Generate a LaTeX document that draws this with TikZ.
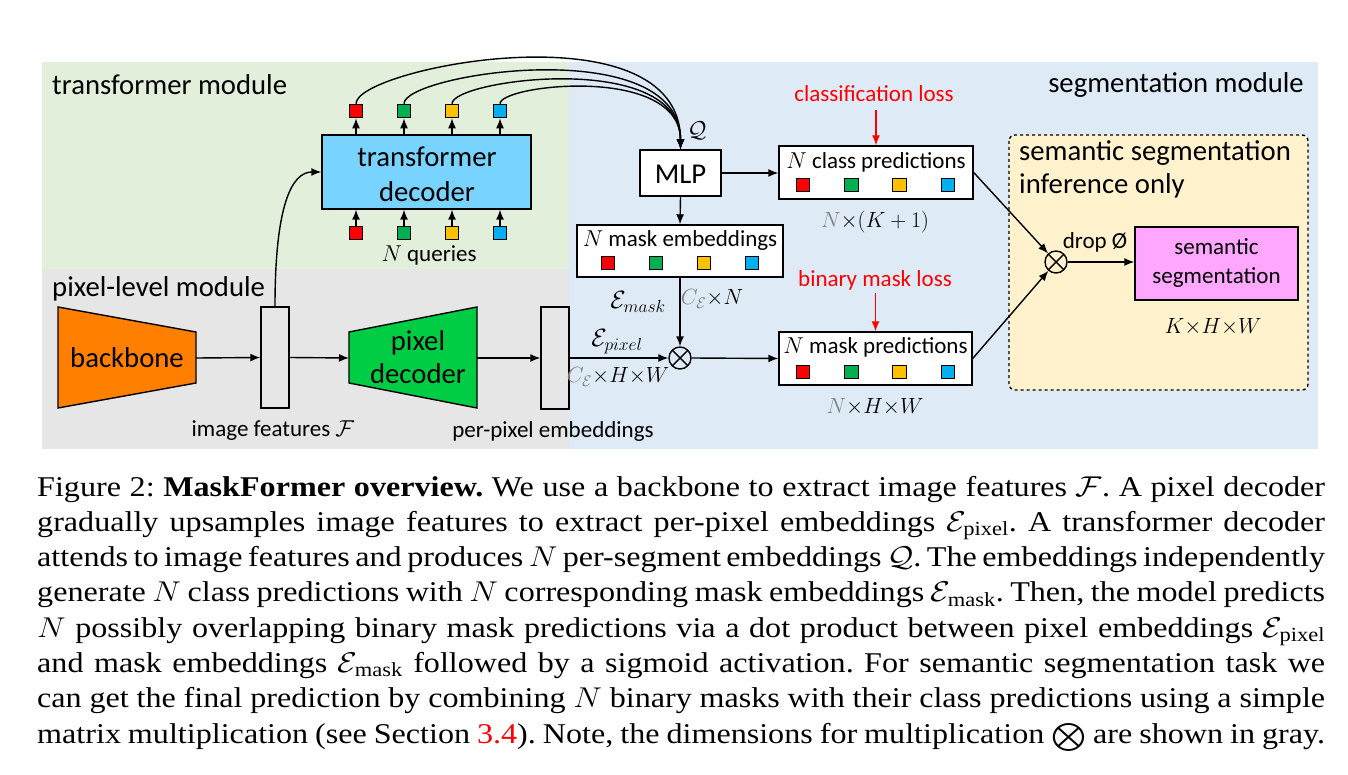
\RequirePackage{fix-cm}
\documentclass[tikz,border=0pt]{standalone}
\usepackage{fontspec}
\setmainfont{Liberation Serif}
\newfontfamily\calfont{Carlito}
\usepackage{amsmath}
\usetikzlibrary{arrows.meta}

\definecolor{tmgreen}{RGB}{226,239,218}
\definecolor{plgray}{RGB}{231,230,230}
\definecolor{smblue}{RGB}{222,235,247}
\definecolor{infyellow}{RGB}{255,242,204}
\definecolor{decblue}{RGB}{120,212,255}
\definecolor{bborange}{RGB}{255,127,0}
\definecolor{pdgreen}{RGB}{0,204,68}
\definecolor{segpink}{RGB}{255,166,255}
\definecolor{qred}{RGB}{255,0,0}
\definecolor{qgreen}{RGB}{0,176,80}
\definecolor{qyellow}{RGB}{255,192,0}
\definecolor{qblue}{RGB}{0,176,240}
\definecolor{dimgray}{RGB}{128,128,128}

\newcommand{\capln}[1]{\scalebox{1.01}[0.9]{\frenchspacing\makebox[1275.2pt][s]{#1}}}

\tikzset{
  box/.style={draw, line width=1.4pt, inner sep=0pt},
  sq/.style={draw, line width=1.1pt, minimum size=13.5pt, inner sep=0pt},
  arr/.style={-{Latex[length=10pt,width=8pt]}, line width=1.4pt},
  lossarr/.style={arr, red},
  lbl/.style={inner sep=0pt, font=\calfont\fontsize{23}{29}\selectfont},
  head/.style={inner sep=0pt, font=\calfont\fontsize{28.7}{33}\selectfont},
  dim/.style={inner sep=0pt, font=\fontsize{22}{26}\selectfont},
  otimes/.style={draw, circle, line width=1.4pt, minimum size=22pt, inner sep=0pt,
    path picture={\draw[line width=1.4pt]
      (path picture bounding box.north west) -- (path picture bounding box.south east)
      (path picture bounding box.north east) -- (path picture bounding box.south west);}},
  capline/.style={anchor=base west, inner sep=0pt, font=\fontsize{31.8}{35}\selectfont},
}

\begin{document}
\begin{tikzpicture}[x=1pt, y=-1pt]
    \useasboundingbox[fill=white] (0,0) rectangle (1348,775);

    % module backgrounds
    \fill[tmgreen] (42,62) rectangle (569,269);
    \fill[plgray] (42,269) rectangle (569,449);
    \fill[smblue] (569,62) rectangle (1318,449);
    \node[head, anchor=west] at (52,85) {transformer module};
    \node[head, anchor=west] at (52,289) {pixel-level module};
    \node[head, anchor=east] at (1304,85) {segmentation module};

    % pixel-level module
    \fill[bborange, draw=black, line width=1.4pt] (58,307) -- (196,332) -- (196,383) -- (58,408) -- cycle;
    \node[head] (bb) at (127,358) {backbone};
    \coordinate (bbout) at (196,358);
    \node[box, fill=plgray, minimum width=28pt, minimum height=101pt] (feat) at (275,357.5) {};
    \fill[pdgreen, draw=black, line width=1.4pt] (349,332) -- (477,307) -- (477,408) -- (349,383) -- cycle;
    \node[head, align=center] (pd) at (418,357) {pixel\\decoder};
    \coordinate (pdin) at (349,358);
    \coordinate (pdout) at (477,358);
    \node[box, fill=plgray, minimum width=28pt, minimum height=102pt] (ppe) at (555,358) {};
    \node[lbl] at (273,431) {image features $\mathcal{F}$};
    \node[lbl] at (553,431) {per-pixel embeddings};

    \draw[arr] (bbout) -- (feat.west);
    \draw[arr] (feat.east) -- (pdin);
    \draw[arr] (pdout) -- (ppe.west);

    % transformer module
    \node[box, fill=decblue, minimum width=209pt, minimum height=74pt] (dec) at (426.5,172) {};
    \node[head, align=center, font=\calfont\fontsize{28.7}{35}\selectfont] at (427,174) {transformer\\decoder};
    \foreach \c [count=\i] in {qred,qgreen,qyellow,qblue} {
        \node[sq, fill=\c] (to\i) at ({308+48*\i},111) {};
        \node[sq, fill=\c] (ti\i) at ({308+48*\i},233) {};
        \draw[arr] (to\i |- dec.north) -- (to\i.south);
        \draw[arr] (ti\i.north) -- (ti\i |- dec.south);
    }
    \node[lbl] at (429,255) {$N$ queries};
    \draw[arr] (feat.north) .. controls +(0,-100) and +(-30,0) .. (dec.west);

    % segmentation module
    \node[box, fill=white, minimum width=81pt, minimum height=46pt] (mlp) at (680.5,173) {};
    \node[head] at (680.5,174) {MLP};
    \node[lbl] at (697,131) {$\mathcal{Q}$};
    \draw[arr] (to1.north) .. controls +(0,-36) and +(0,-145) .. (mlp.north);
    \draw[arr] (to2.north) .. controls +(0,-30) and +(0,-118) .. (mlp.north);
    \draw[arr] (to3.north) .. controls +(0,-24) and +(0,-100) .. (mlp.north);
    \draw[arr] (to4.north) .. controls +(0,-19) and +(0,-85) .. (mlp.north);

    \node[box, fill=white, minimum width=194pt, minimum height=53pt] (cls) at (876,172.5) {};
    \node[lbl] at (876,162) {$N$ class predictions};
    \node[box, fill=white, minimum width=206pt, minimum height=52pt] (memb) at (680,251) {};
    \node[lbl] at (680,240) {$N$ mask embeddings};
    \node[box, fill=white, minimum width=193pt, minimum height=53pt] (mpred) at (875.5,358.5) {};
    \node[lbl] at (875.5,347) {$N$ mask predictions};
    \foreach \c [count=\i] in {qred,qgreen,qyellow,qblue} {
        \node[sq, fill=\c] at ({754.7+48.3*\i},185) {};
        \node[sq, fill=\c] at ({560+48*\i},263) {};
        \node[sq, fill=\c] at ({754.7+48.3*\i},372) {};
    }

    \node[lbl, text=red] (closs) at (874,94) {classification loss};
    \node[lbl, text=red] (bloss) at (875,280) {binary mask loss};
    \draw[lossarr, shorten <=8pt] (closs.south -| cls.north) -- (cls.north);
    \draw[lossarr, shorten <=3pt] (bloss.south -| mpred.north) -- (mpred.north);
    \node[dim] at (875,222) {$\textcolor{dimgray}{N}{\times}(K+1)$};
    \node[dim] at (875,407) {$\textcolor{dimgray}{N}{\times}H{\times}W$};

    \node[otimes] (ot1) at (680,358) {};
    \node[dim, font=\fontsize{25}{28}\selectfont] at (638,302) {$\mathcal{E}_{mask}$};
    \node[dim] at (712,299) {$\textcolor{dimgray}{C_{\mathcal{E}}}{\times}N$};
    \node[dim, font=\fontsize{25}{28}\selectfont] at (617,342) {$\mathcal{E}_{pixel}$};
    \node[dim] at (618,377) {$\textcolor{dimgray}{C_{\mathcal{E}}}{\times}H{\times}W$};

    \draw[arr] (mlp.east) -- (mlp.east -| cls.west);
    \draw[arr] (mlp.south) -- (memb.north);
    \draw[arr] (memb.south) -- (ot1.north);
    \draw[arr] (ppe.east) -- (ot1.west);
    \draw[arr] (ot1.east) -- (mpred.west);

    % semantic segmentation inference only
    \draw[dashed, line width=1.4pt, rounded corners=6pt, fill=infyellow] (1009,135) rectangle (1308,390);
    \node[head, anchor=west, align=left] at (1019,169.5) {semantic segmentation\\inference only};
    \node[otimes] (ot2) at (1056,262) {};
    \node[box, fill=segpink, minimum width=163pt, minimum height=73pt] (semseg) at (1216.5,263.5) {};
    \node[lbl, align=center] at (1216.5,263) {semantic\\segmentation};
    \node[lbl] at (1095,242) {drop Ø};
    \node[dim] at (1213,327) {$K{\times}H{\times}W$};
    \draw[arr] (cls.east) -- (ot2);
    \draw[arr] (mpred.east) -- (ot2);
    \draw[arr] (ot2.east) -- (ot2.east -| semseg.west);

    % caption
    \node[capline] at (37,496) {\capln{Figure 2: \textbf{MaskFormer overview.} We use a backbone to extract image features $\mathcal{F}$. A pixel decoder}};
    \node[capline] at (37,531.3) {\capln{gradually upsamples image features to extract per-pixel embeddings $\mathcal{E}_{\mathrm{pixel}}$. A transformer decoder}};
    \node[capline] at (37,566.6) {\capln{attends to image features and produces $N$ per-segment embeddings $\mathcal{Q}$. The embeddings independently}};
    \node[capline] at (37,601.9) {\capln{generate $N$ class predictions with $N$ corresponding mask embeddings $\mathcal{E}_{\mathrm{mask}}$. Then, the model predicts}};
    \node[capline] at (37,637.2) {\capln{$N$ possibly overlapping binary mask predictions via a dot product between pixel embeddings $\mathcal{E}_{\mathrm{pixel}}$}};
    \node[capline] at (37,672.5) {\capln{and mask embeddings $\mathcal{E}_{\mathrm{mask}}$ followed by a sigmoid activation. For semantic segmentation task we}};
    \node[capline] at (37,707.8) {\capln{can get the final prediction by combining $N$ binary masks with their class predictions using a simple}};
    \node[capline] at (37,743.1) {\capln{matrix multiplication (see Section \textcolor{red}{3.4}). Note, the dimensions for multiplication \smash{\raisebox{-0.12em}{\scalebox{1.25}{$\bigotimes$}}} are shown in gray.}};
\end{tikzpicture}
\end{document}
